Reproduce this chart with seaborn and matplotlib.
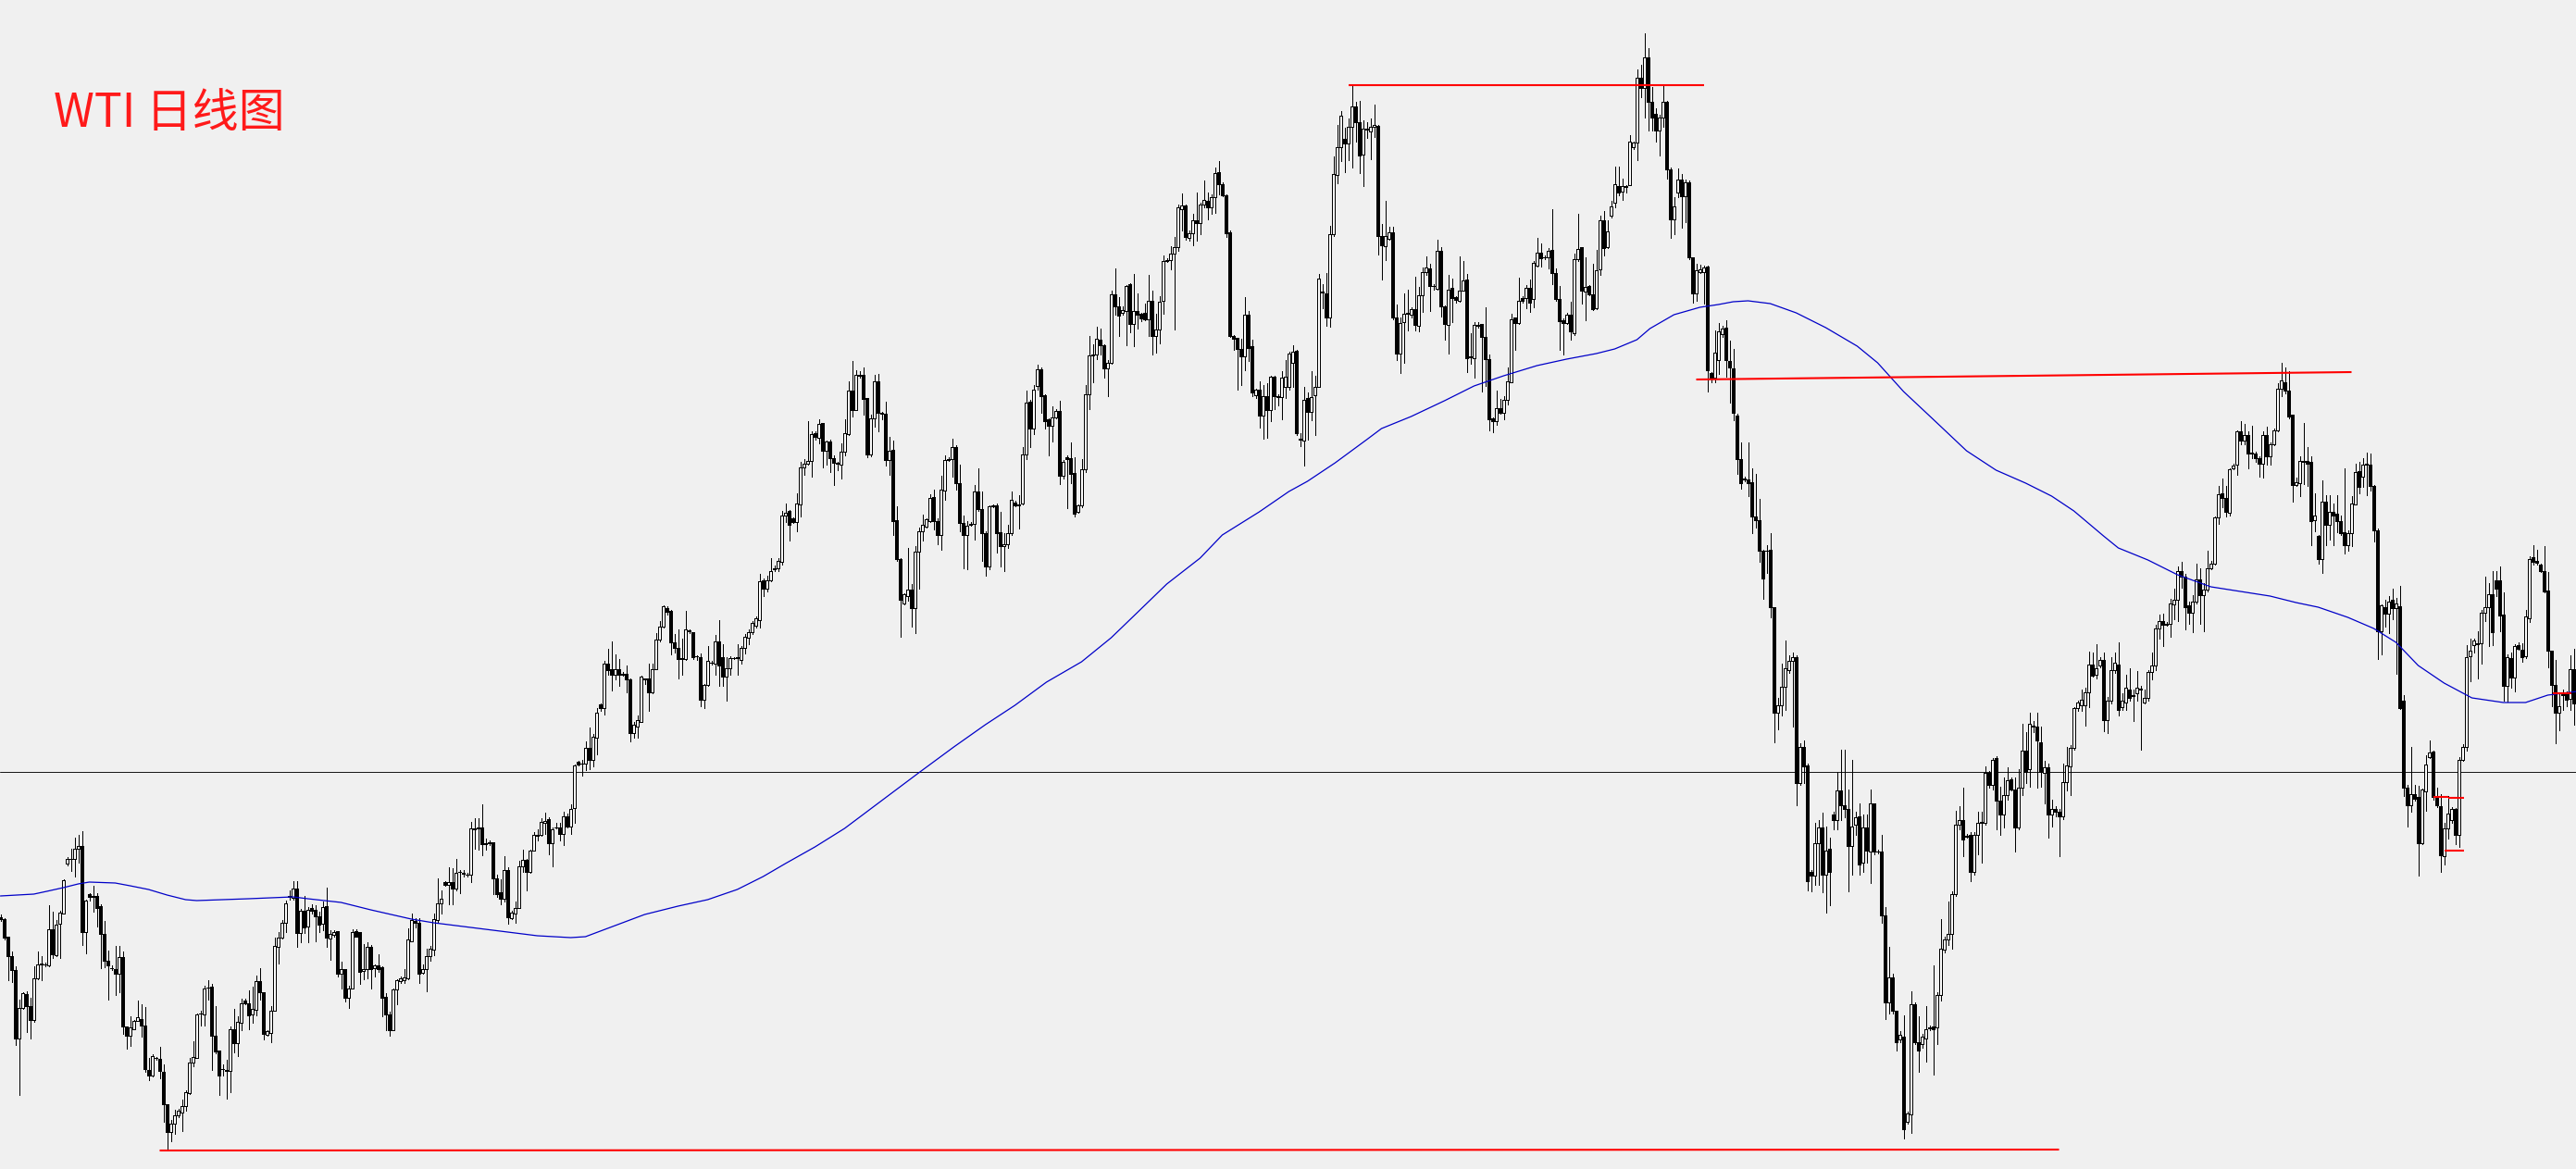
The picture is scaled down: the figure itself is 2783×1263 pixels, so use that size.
import matplotlib

matplotlib.use("Agg")
import matplotlib.pyplot as plt
import numpy as np
import seaborn as sns

# daily candles, price in chart points
opens = [
    272, 270, 251, 230, 215, 141, 174, 189, 176, 161,
    206, 221, 221, 220, 259, 231, 265, 276, 330, 335,
    335, 346, 349, 256, 297, 295, 295, 284, 254, 225,
    217, 216, 211, 229, 154, 144, 151, 160, 162, 155,
    107, 101, 120, 119, 105, 70, 40, 49, 58, 61,
    68, 82, 115, 120, 168, 167, 196, 197, 144, 128,
    108, 107, 106, 151, 136, 158, 182, 179, 167, 172,
    203, 191, 145, 147, 171, 240, 250, 266, 294, 293,
    303, 255, 279, 262, 282, 280, 273, 265, 284, 249,
    253, 257, 211, 216, 185, 195, 257, 256, 214, 216,
    240, 217, 220, 218, 186, 167, 150, 194, 203, 204,
    206, 246, 268, 266, 212, 216, 230, 237, 269, 287,
    310, 307, 310, 303, 321, 320, 318, 318, 368, 368,
    369, 352, 352, 353, 314, 299, 292, 323, 271, 276,
    282, 327, 334, 321, 344, 361, 361, 374, 378, 352,
    369, 369, 362, 381, 370, 390, 440, 438, 438, 455,
    442, 466, 502, 498, 546, 540, 534, 540, 535, 535,
    529, 471, 478, 483, 530, 530, 515, 540, 572, 586,
    606, 603, 569, 563, 552, 551, 582, 580, 554, 553,
    507, 523, 547, 546, 570, 553, 532, 541, 552, 553,
    550, 563, 574, 580, 587, 593, 636, 627, 636, 648,
    649, 656, 706, 711, 703, 699, 718, 758, 762, 765,
    795, 790, 806, 776, 786, 768, 763, 761, 775, 794,
    841, 820, 857, 858, 833, 772, 811, 851, 817, 816,
    766, 777, 701, 659, 611, 619, 626, 606, 667, 689,
    694, 700, 726, 700, 685, 733, 766, 767, 780, 741,
    698, 685, 696, 697, 732, 713, 687, 651, 717, 717,
    688, 673, 675, 687, 720, 717, 719, 772, 829, 800,
    846, 864, 836, 810, 803, 812, 819, 749, 769, 768,
    752, 710, 717, 756, 837, 879, 880, 896, 890, 865,
    871, 945, 932, 925, 927, 956, 913, 927, 924, 925,
    918, 938, 900, 907, 938, 981, 982, 989, 996, 1037,
    1041, 1006, 1011, 1025, 1022, 1042, 1046, 1039, 1050, 1077,
    1064, 1052, 1012, 900, 898, 886, 878, 923, 889, 836,
    842, 814, 835, 820, 856, 835, 834, 845, 845, 871,
    884, 789, 787, 833, 818, 836, 845, 948, 946, 920,
    1010, 1074, 1104, 1113, 1108, 1126, 1148, 1131, 1096, 1124,
    1121, 1126, 1127, 1008, 997, 1005, 1012, 920, 881, 915,
    925, 923, 929, 911, 944, 969, 973, 954, 951, 992,
    932, 912, 952, 942, 938, 949, 961, 878, 876, 911,
    913, 899, 875, 811, 808, 822, 817, 831, 850, 920,
    914, 941, 941, 952, 940, 976, 990, 985, 985, 993,
    968, 940, 917, 914, 923, 903, 983, 996, 948, 954,
    945, 930, 972, 1025, 996, 1030, 1044, 1062, 1056, 1062,
    1063, 1104, 1109, 1179, 1168, 1201, 1153, 1140, 1122, 1136,
    1153, 1080, 1026, 1055, 1069, 1051, 1066, 985, 946, 969,
    969, 975, 860, 855, 874, 902, 909, 873, 865, 814,
    767, 746, 745, 742, 705, 701, 668, 668, 669, 607,
    493, 501, 521, 539, 549, 553, 417, 456, 436, 321,
    317, 352, 369, 318, 346, 383, 377, 409, 393, 389,
    349, 372, 381, 331, 369, 343, 395, 343, 343, 274,
    180, 207, 171, 140, 143, 51, 59, 178, 137, 135,
    141, 152, 154, 153, 188, 237, 248, 254, 297, 372,
    377, 359, 361, 321, 361, 374, 374, 428, 415, 444,
    398, 383, 404, 421, 410, 369, 412, 452, 432, 479,
    478, 461, 428, 434, 383, 389, 386, 381, 418, 435,
    455, 498, 501, 501, 515, 545, 534, 544, 550, 485,
    506, 539, 545, 499, 504, 518, 511, 514, 519, 504,
    509, 537, 544, 584, 592, 588, 589, 610, 615, 646,
    640, 609, 601, 613, 637, 620, 626, 649, 654, 704,
    730, 725, 709, 757, 761, 797, 787, 793, 774, 773,
    768, 762, 793, 770, 783, 798, 843, 850, 841, 815,
    739, 741, 765, 765, 764, 701, 684, 659, 721, 696,
    710, 708, 700, 688, 674, 687, 718, 754, 748, 762,
    761, 738, 690, 581, 607, 600, 615, 606, 608, 506,
    412, 393, 405, 402, 352, 408, 445, 451, 402, 392,
    338, 368, 377, 389, 361, 442, 456, 554, 566, 568,
    568, 601, 607, 621, 636, 636, 599, 522, 552, 531,
    566, 561, 554, 595, 661, 657, 653, 646, 625, 560,
    523, 493, 513, 514, 508, 540,
]

highs = [
    275, 271, 251, 235, 219, 183, 191, 192, 185, 219,
    235, 230, 223, 285, 278, 269, 279, 313, 337, 346,
    358, 361, 365, 291, 298, 306, 298, 286, 268, 236,
    220, 241, 241, 235, 154, 165, 161, 182, 178, 175,
    120, 124, 121, 132, 113, 70, 53, 64, 65, 75,
    85, 120, 138, 168, 171, 198, 204, 200, 176, 128,
    113, 118, 154, 173, 165, 184, 184, 193, 197, 209,
    217, 191, 150, 176, 250, 256, 269, 290, 301, 311,
    311, 281, 295, 283, 286, 285, 278, 289, 304, 258,
    258, 257, 224, 216, 198, 259, 259, 256, 243, 245,
    242, 221, 232, 219, 190, 170, 195, 205, 208, 216,
    260, 276, 271, 271, 221, 238, 241, 276, 314, 301,
    311, 326, 325, 335, 323, 323, 320, 375, 379, 379,
    394, 357, 355, 353, 318, 313, 338, 326, 279, 289,
    333, 345, 335, 345, 364, 367, 379, 385, 380, 369,
    374, 374, 386, 384, 394, 437, 441, 442, 462, 477,
    470, 498, 503, 549, 562, 570, 556, 551, 537, 544,
    530, 483, 490, 533, 530, 546, 546, 579, 592, 609,
    608, 604, 578, 583, 573, 603, 583, 580, 555, 557,
    524, 565, 549, 577, 593, 567, 553, 554, 553, 567,
    565, 578, 583, 592, 597, 643, 638, 641, 660, 652,
    660, 711, 719, 712, 704, 730, 764, 767, 808, 797,
    797, 810, 806, 787, 788, 771, 764, 784, 810, 851,
    873, 863, 862, 866, 833, 815, 858, 859, 818, 829,
    791, 787, 716, 660, 622, 671, 632, 673, 693, 707,
    703, 729, 734, 703, 749, 771, 769, 789, 782, 761,
    706, 700, 699, 739, 757, 732, 689, 717, 718, 719,
    710, 687, 696, 732, 722, 728, 780, 841, 831, 847,
    869, 866, 837, 811, 824, 821, 830, 766, 771, 785,
    769, 718, 767, 847, 900, 891, 910, 908, 891, 874,
    949, 973, 942, 932, 955, 957, 967, 946, 925, 935,
    966, 949, 924, 943, 987, 984, 997, 1007, 1042, 1054,
    1042, 1014, 1032, 1055, 1044, 1068, 1055, 1053, 1082, 1089,
    1066, 1053, 1014, 901, 898, 897, 942, 927, 896, 843,
    851, 847, 849, 857, 857, 837, 862, 874, 883, 890,
    885, 795, 845, 839, 862, 857, 967, 956, 968, 1019,
    1094, 1128, 1143, 1125, 1135, 1171, 1153, 1154, 1133, 1131,
    1135, 1150, 1128, 1021, 1046, 1018, 1018, 934, 920, 946,
    950, 931, 964, 953, 974, 986, 978, 956, 1004, 996,
    933, 966, 962, 943, 986, 981, 967, 903, 915, 915,
    913, 931, 880, 812, 841, 832, 835, 866, 924, 920,
    963, 943, 955, 961, 981, 1006, 1000, 987, 995, 1037,
    973, 954, 919, 925, 937, 989, 1032, 996, 985, 955,
    978, 993, 1030, 1035, 1025, 1046, 1083, 1083, 1070, 1063,
    1117, 1110, 1188, 1193, 1227, 1211, 1169, 1146, 1139, 1171,
    1154, 1082, 1050, 1081, 1075, 1069, 1068, 985, 978, 977,
    976, 976, 861, 906, 914, 911, 917, 895, 886, 816,
    785, 748, 785, 757, 751, 724, 669, 674, 687, 607,
    509, 546, 571, 555, 558, 555, 460, 463, 438, 323,
    374, 377, 385, 370, 358, 386, 429, 453, 453, 410,
    442, 386, 395, 383, 383, 410, 395, 345, 361, 283,
    240, 211, 171, 149, 166, 62, 192, 180, 165, 146,
    176, 155, 220, 191, 270, 251, 289, 300, 387, 392,
    412, 362, 364, 364, 386, 386, 435, 430, 444, 446,
    413, 423, 434, 423, 423, 432, 481, 472, 493, 484,
    493, 478, 441, 438, 399, 392, 389, 438, 456, 458,
    499, 506, 518, 520, 559, 558, 567, 553, 558, 510,
    553, 558, 569, 514, 534, 541, 518, 538, 522, 518,
    539, 558, 588, 599, 600, 591, 616, 627, 651, 656,
    643, 613, 620, 654, 649, 633, 668, 657, 705, 738,
    746, 738, 757, 762, 798, 808, 805, 797, 803, 775,
    770, 797, 802, 785, 800, 849, 871, 866, 862, 815,
    747, 770, 806, 780, 770, 730, 685, 744, 728, 728,
    719, 728, 706, 757, 690, 727, 762, 764, 768, 774,
    773, 739, 692, 610, 615, 619, 627, 617, 630, 512,
    415, 456, 415, 414, 411, 447, 463, 452, 412, 405,
    374, 403, 391, 390, 445, 459, 566, 573, 573, 581,
    604, 640, 633, 646, 646, 651, 623, 556, 558, 567,
    569, 568, 604, 662, 674, 669, 654, 673, 645, 560,
    550, 513, 518, 516, 555, 562,
]

lows = [
    268, 248, 204, 202, 134, 80, 173, 148, 141, 159,
    205, 204, 219, 219, 228, 230, 228, 276, 328, 322,
    316, 331, 242, 233, 290, 278, 262, 217, 218, 183,
    215, 188, 191, 146, 130, 133, 151, 160, 143, 105,
    96, 100, 118, 98, 51, 21, 30, 38, 56, 41,
    63, 81, 111, 120, 155, 155, 183, 107, 125, 80,
    101, 76, 83, 126, 122, 150, 178, 151, 158, 166,
    183, 140, 144, 137, 171, 222, 249, 256, 291, 291,
    240, 245, 255, 245, 276, 246, 256, 258, 240, 226,
    251, 208, 195, 181, 174, 195, 251, 200, 205, 206,
    195, 208, 213, 165, 150, 144, 150, 178, 201, 201,
    205, 246, 261, 201, 211, 192, 225, 231, 266, 276,
    306, 286, 286, 301, 298, 316, 316, 310, 346, 345,
    339, 345, 350, 297, 294, 286, 289, 265, 270, 266,
    282, 321, 301, 320, 344, 355, 360, 362, 340, 327,
    368, 355, 350, 369, 362, 374, 436, 425, 431, 432,
    435, 448, 495, 491, 534, 517, 529, 522, 533, 515,
    462, 466, 466, 483, 524, 495, 514, 540, 570, 585,
    599, 556, 558, 530, 534, 550, 579, 551, 550, 500,
    498, 522, 545, 534, 522, 522, 506, 534, 551, 534,
    546, 557, 567, 578, 585, 585, 619, 624, 635, 646,
    646, 653, 699, 679, 698, 689, 705, 750, 761, 748,
    788, 784, 758, 761, 753, 739, 755, 746, 771, 793,
    813, 820, 855, 815, 769, 770, 802, 797, 810, 760,
    750, 685, 657, 575, 610, 614, 586, 579, 627, 679,
    693, 699, 691, 675, 669, 723, 765, 748, 734, 689,
    649, 648, 695, 680, 711, 657, 641, 648, 715, 666,
    651, 646, 671, 685, 716, 692, 718, 767, 780, 794,
    842, 817, 800, 771, 786, 811, 740, 746, 714, 741,
    705, 709, 715, 753, 821, 850, 875, 880, 855, 835,
    870, 923, 900, 923, 890, 904, 889, 908, 916, 917,
    900, 880, 882, 892, 924, 980, 972, 907, 992, 1014,
    1004, 1003, 998, 1003, 1010, 1039, 1026, 1032, 1033, 1053,
    1051, 1007, 899, 885, 842, 847, 863, 873, 835, 833,
    801, 789, 790, 808, 821, 825, 810, 833, 842, 845,
    793, 781, 760, 788, 809, 793, 845, 930, 911, 910,
    1008, 1065, 1089, 1077, 1090, 1082, 1110, 1076, 1062, 1114,
    1091, 1115, 988, 961, 982, 1004, 918, 874, 860, 871,
    906, 920, 906, 905, 926, 966, 927, 950, 950, 921,
    896, 881, 915, 936, 937, 949, 861, 870, 855, 909,
    840, 846, 798, 796, 804, 816, 810, 826, 850, 885,
    913, 936, 930, 926, 931, 975, 975, 983, 973, 956,
    938, 885, 880, 913, 896, 901, 981, 935, 917, 944,
    928, 929, 966, 987, 995, 1028, 1039, 1052, 1047, 1055,
    1063, 1102, 1090, 1158, 1136, 1122, 1122, 1110, 1095, 1126,
    1070, 1006, 1010, 1050, 1017, 1023, 983, 936, 938, 968,
    935, 840, 850, 850, 859, 899, 856, 828, 809, 751,
    735, 743, 727, 687, 693, 656, 616, 644, 596, 461,
    475, 490, 496, 536, 478, 393, 415, 417, 301, 300,
    307, 307, 299, 277, 285, 367, 367, 377, 380, 300,
    318, 361, 318, 321, 331, 309, 340, 341, 266, 162,
    168, 168, 128, 137, 33, 49, 39, 135, 105, 131,
    116, 150, 102, 135, 182, 234, 242, 238, 295, 367,
    338, 358, 311, 318, 340, 331, 372, 412, 410, 367,
    361, 369, 399, 409, 343, 367, 404, 417, 413, 472,
    412, 413, 395, 358, 370, 381, 338, 378, 409, 404,
    453, 495, 495, 479, 499, 532, 530, 542, 473, 471,
    503, 536, 490, 496, 496, 506, 484, 506, 453, 503,
    506, 529, 539, 573, 565, 587, 575, 594, 592, 628,
    583, 589, 580, 611, 589, 581, 624, 648, 653, 697,
    715, 705, 706, 756, 750, 783, 783, 757, 768, 764,
    748, 747, 761, 761, 782, 797, 835, 838, 811, 721,
    738, 727, 740, 738, 674, 689, 654, 644, 674, 680,
    674, 688, 685, 665, 668, 673, 718, 730, 737, 728,
    733, 678, 551, 556, 586, 579, 594, 535, 497, 403,
    370, 386, 398, 317, 351, 387, 444, 399, 391, 321,
    329, 357, 374, 351, 348, 441, 452, 527, 558, 530,
    546, 592, 565, 566, 619, 581, 506, 505, 520, 516,
    561, 548, 552, 591, 653, 653, 645, 623, 542, 500,
    460, 474, 496, 500, 496, 480,
]

closes = [
    270, 250, 230, 215, 141, 174, 190, 176, 161, 206,
    221, 222, 221, 259, 232, 264, 277, 312, 335, 335,
    346, 349, 256, 290, 294, 294, 282, 254, 225, 220,
    217, 211, 229, 154, 144, 153, 160, 164, 155, 108,
    101, 122, 120, 106, 70, 40, 49, 58, 63, 68,
    83, 115, 121, 167, 168, 195, 196, 144, 127, 101,
    108, 106, 151, 136, 159, 179, 179, 166, 173, 203,
    191, 146, 149, 171, 241, 250, 266, 287, 295, 303,
    255, 279, 261, 280, 279, 273, 264, 283, 250, 254,
    256, 211, 216, 185, 195, 256, 251, 213, 216, 240,
    216, 220, 216, 185, 167, 150, 194, 204, 206, 207,
    248, 269, 266, 211, 216, 230, 238, 270, 287, 292,
    307, 310, 303, 320, 321, 319, 318, 368, 367, 369,
    351, 351, 353, 314, 297, 292, 323, 272, 277, 282,
    327, 334, 321, 344, 361, 360, 375, 376, 352, 367,
    369, 362, 381, 370, 389, 436, 437, 438, 455, 442,
    467, 493, 498, 546, 539, 534, 540, 534, 534, 529,
    471, 480, 485, 532, 529, 515, 540, 572, 586, 608,
    602, 569, 563, 551, 551, 583, 581, 553, 554, 507,
    523, 549, 547, 570, 544, 532, 541, 552, 552, 552,
    563, 575, 580, 590, 595, 635, 627, 636, 646, 649,
    657, 706, 709, 696, 699, 719, 758, 762, 765, 794,
    791, 805, 776, 786, 768, 763, 762, 775, 795, 841,
    820, 858, 858, 832, 772, 811, 851, 817, 816, 766,
    776, 700, 659, 615, 621, 626, 606, 667, 689, 696,
    702, 725, 700, 685, 734, 766, 767, 780, 741, 698,
    685, 695, 697, 732, 713, 687, 651, 716, 716, 687,
    673, 675, 687, 723, 717, 718, 772, 828, 800, 842,
    864, 835, 808, 803, 812, 819, 749, 764, 767, 751,
    708, 717, 756, 837, 879, 880, 897, 890, 865, 871,
    945, 932, 922, 928, 954, 913, 927, 923, 919, 918,
    938, 900, 907, 937, 981, 982, 989, 996, 1039, 1041,
    1007, 1011, 1025, 1022, 1042, 1047, 1039, 1050, 1076, 1064,
    1052, 1011, 900, 897, 886, 878, 923, 887, 839, 842,
    814, 835, 820, 856, 835, 834, 855, 856, 881, 883,
    795, 788, 831, 818, 834, 845, 962, 947, 920, 1010,
    1075, 1104, 1138, 1108, 1126, 1148, 1131, 1095, 1124, 1123,
    1126, 1128, 1008, 998, 1008, 1012, 920, 881, 914, 924,
    924, 929, 912, 944, 969, 974, 954, 954, 992, 932,
    913, 950, 941, 939, 949, 960, 876, 877, 912, 912,
    899, 875, 810, 808, 822, 817, 831, 851, 918, 914,
    938, 938, 952, 936, 979, 990, 984, 985, 992, 968,
    940, 916, 914, 923, 905, 983, 994, 949, 953, 945,
    929, 971, 1025, 995, 1013, 1040, 1064, 1055, 1062, 1061,
    1110, 1109, 1179, 1168, 1201, 1153, 1136, 1122, 1136, 1153,
    1080, 1026, 1040, 1069, 1051, 1066, 985, 946, 971, 972,
    974, 863, 855, 882, 905, 908, 874, 866, 817, 767,
    741, 745, 741, 705, 701, 668, 638, 668, 607, 493,
    501, 521, 541, 549, 553, 417, 456, 435, 311, 317,
    352, 369, 318, 344, 321, 377, 409, 393, 389, 349,
    370, 380, 329, 369, 344, 395, 343, 343, 274, 180,
    207, 171, 137, 145, 43, 60, 178, 137, 128, 143,
    151, 153, 151, 188, 238, 248, 254, 297, 372, 377,
    356, 360, 321, 361, 374, 375, 428, 415, 442, 398,
    383, 404, 420, 410, 369, 412, 452, 429, 481, 478,
    463, 429, 434, 383, 389, 386, 381, 418, 436, 455,
    498, 504, 507, 515, 545, 533, 541, 550, 485, 506,
    539, 547, 496, 506, 520, 509, 512, 520, 518, 509,
    537, 544, 584, 592, 588, 589, 611, 615, 646, 640,
    607, 601, 613, 637, 620, 626, 649, 654, 704, 729,
    725, 710, 756, 760, 797, 787, 793, 773, 773, 768,
    762, 793, 770, 783, 798, 843, 852, 841, 813, 739,
    742, 765, 764, 762, 700, 706, 659, 721, 696, 710,
    706, 700, 687, 674, 687, 719, 753, 737, 761, 761,
    738, 690, 581, 609, 600, 613, 606, 611, 498, 412,
    393, 405, 400, 352, 410, 437, 450, 402, 393, 339,
    368, 384, 389, 361, 442, 456, 553, 560, 571, 567,
    601, 607, 621, 580, 627, 598, 522, 553, 531, 565,
    562, 553, 597, 659, 656, 655, 646, 624, 560, 523,
    493, 500, 512, 507, 540, 503,
]

# slow moving average (blue), read at bar positions
ma_bar = [
    0, 9, 12.5, 17, 21, 24, 31, 35, 40, 45, 50, 53, 67, 79, 83, 92, 100,
    111, 117, 133, 145, 154, 158, 166, 174, 183, 191, 199, 206, 212, 220,
    228, 237, 248, 257.5, 266, 274, 282.5, 292, 300, 307, 315, 324, 330,
    340, 348, 353, 360.5, 369, 373, 381, 390, 398, 406, 415, 423, 431,
    436, 442, 445.5, 452, 459, 464, 468, 472, 478, 485, 493, 501.5, 507,
    514, 522, 531, 539, 547, 554, 560, 568, 572, 580, 588, 597, 605, 613,
    620, 626, 634, 641, 647, 653, 660, 667.5, 676, 682, 688, 696,
]
ma_value = [
    295, 297, 300, 304, 308, 310, 309, 306, 302, 296, 291, 290, 292, 294,
    292, 288, 280, 270, 266, 258, 252, 250, 251, 263, 275, 284, 291, 302,
    316, 330, 348, 368, 395, 428, 456, 480, 501, 526, 548, 574, 601, 632,
    660, 685, 710, 732, 743, 763, 788, 800, 813, 830, 846, 857, 868, 875,
    881, 886, 896, 908, 923, 931, 934, 937, 938, 935, 925, 909, 889, 871,
    840, 810, 776, 755, 741, 727, 711, 684, 671, 658, 642, 629, 624, 619,
    612, 607, 596, 584, 569, 544, 525, 509, 504, 504, 512, 516,
]

# red drawn levels: start bar, end bar, price at start, price at end
level_bar0 = [364, 458, 43, 657, 661, 660, 689.25]
level_bar1 = [460, 635, 556, 661, 665.25, 665.25, 694.25]
level_p0 = [1171, 853, 20, 402, 401, 344, 514]
level_p1 = [1171, 861, 21, 402, 401, 344, 514]

mid_level = 429
title = "WTI 日线图"

BG = "#f0f0f0"
W, H = 2783, 1263

sns.set_theme(style="white", rc={"axes.facecolor": BG, "figure.facecolor": BG})
plt.rcParams["font.family"] = ["Noto Sans CJK SC", "DejaVu Sans"]

o = np.array(opens, dtype=float)
h = np.array(highs, dtype=float)
lo = np.array(lows, dtype=float)
c = np.array(closes, dtype=float)
assert len(o) == len(h) == len(lo) == len(c), (len(o), len(h), len(lo), len(c))
idx = np.arange(len(c))
up = c >= o

fig = plt.figure(figsize=(W / 100, H / 100), dpi=100)
ax = fig.add_axes([0, 0, 1, 1])
ax.set_xlim(-0.125, W / 4 - 0.125)
ax.set_ylim(0, H)
ax.axis("off")

px = 0.72  # one pixel in points

ax.axhline(mid_level, color="#1a1a1a", lw=px, zorder=1)

ax.vlines(idx, lo, h, color="black", lw=px, antialiased=False, zorder=2)
ax.bar(idx[up], c[up] - o[up], bottom=o[up], width=0.6, color="white",
       edgecolor="black", linewidth=px, antialiased=False, zorder=3)
ax.bar(idx[~up], o[~up] - c[~up], bottom=c[~up], width=0.6, color="black",
       edgecolor="black", linewidth=px, antialiased=False, zorder=3)

sns.lineplot(x=ma_bar, y=ma_value, color="#0000c8", lw=0.9, ax=ax, zorder=4)

for x0, x1, p0, p1 in zip(level_bar0, level_bar1, level_p0, level_p1):
    ax.plot([x0, x1], [p0, p1], color="red", lw=1.5, solid_capstyle="butt", zorder=5)

fig.text(58 / W, 1 - 137 / H, title, color="#ff1a1a", fontsize=36,
         ha="left", va="baseline")

fig.savefig("out.png", dpi=100, facecolor=BG)
